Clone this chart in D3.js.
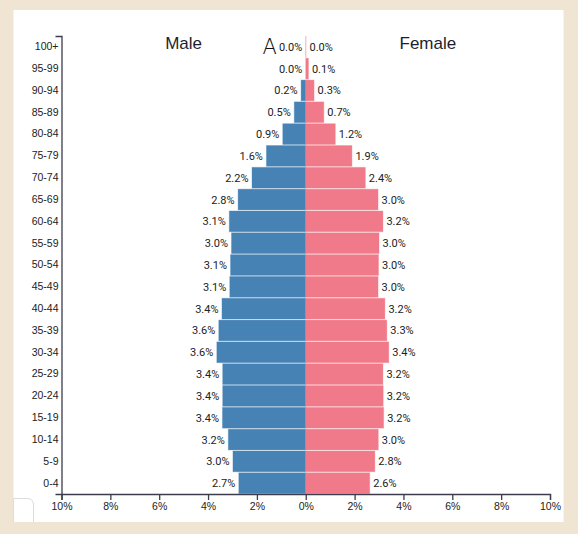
<!DOCTYPE html>
<html>
<head>
<meta charset="utf-8">
<script src="https://cdn.jsdelivr.net/npm/d3@7"></script>
<style>
  html, body { margin: 0; padding: 0; background: #f0e5d3; }
  svg { display: block; font-family: "Liberation Sans", Arial, Helvetica, sans-serif; }
</style>
</head>
<body>
<svg id="chart" width="578" height="534"></svg>
<script>
// ---- data ----
const ageGroups = ["100+","95-99","90-94","85-89","80-84","75-79","70-74","65-69","60-64","55-59","50-54","45-49","40-44","35-39","30-34","25-29","20-24","15-19","10-14","5-9","0-4"];
const maleValues   = [0.00,0.00,0.19,0.47,0.94,1.61,2.20,2.77,3.13,3.04,3.08,3.11,3.43,3.56,3.64,3.40,3.40,3.41,3.17,2.98,2.74];
const femaleValues = [0.01,0.11,0.34,0.74,1.21,1.89,2.44,2.96,3.16,3.00,2.98,2.96,3.24,3.32,3.40,3.16,3.17,3.19,2.97,2.83,2.62];
const xTickValues = [-10,-8,-6,-4,-2,0,2,4,6,8,10];
const seriesTitles = ["Male","Female"];

// ---- layout ----
const W = 578, H = 534;
const plot = {left: 61.5, right: 550, top: 36, bottom: 494};
const maleColor = "#4682b4", femaleColor = "#f07a89";
const axisColor = "#3c3c4c", textColor = "#222";

const svg = d3.select("#chart");
svg.append("rect").attr("width", W).attr("height", H).attr("fill", "#f0e5d3");
svg.append("rect").attr("x", 13.5).attr("y", 10).attr("width", 550).attr("height", 512).attr("fill", "#ffffff");

const x = d3.scaleLinear().domain([-10, 10]).range([plot.left, plot.right]);
const y = d3.scaleBand().domain(ageGroups).range([plot.top, plot.bottom]).paddingInner(0.05).paddingOuter(0.02);

const rows = ageGroups.map((g, i) => ({group: g, male: maleValues[i], female: femaleValues[i]}));

// bars
const g = svg.append("g");
g.selectAll("rect.male").data(rows).join("rect")
  .attr("class", "male")
  .attr("x", d => x(-d.male))
  .attr("y", d => y(d.group))
  .attr("width", d => x(0) - x(-d.male))
  .attr("height", y.bandwidth())
  .attr("fill", maleColor)
  .attr("stroke", maleColor).attr("stroke-opacity", 0.35).attr("stroke-width", 1);

g.selectAll("rect.female").data(rows).join("rect")
  .attr("class", "female")
  .attr("x", x(0))
  .attr("y", d => y(d.group))
  .attr("width", d => x(d.female) - x(0))
  .attr("height", y.bandwidth())
  .attr("fill", femaleColor)
  .attr("stroke", femaleColor).attr("stroke-opacity", 0.35).attr("stroke-width", 1);

// value labels
const fmt = d3.format(".1f");
g.selectAll("text.ml").data(rows).join("text")
  .attr("class", "ml")
  .attr("x", d => x(-d.male) - 3.5)
  .attr("y", d => y(d.group) + y.bandwidth() / 2)
  .attr("dy", "0.36em")
  .attr("text-anchor", "end")
  .attr("font-family", "Roboto, 'Liberation Sans', sans-serif")
  .attr("font-size", 11)
  .attr("fill", textColor)
  .text(d => fmt(d.male) + "%");

g.selectAll("text.fl").data(rows).join("text")
  .attr("class", "fl")
  .attr("x", d => x(d.female) + 3.5)
  .attr("y", d => y(d.group) + y.bandwidth() / 2)
  .attr("dy", "0.36em")
  .attr("text-anchor", "start")
  .attr("font-family", "Roboto, 'Liberation Sans', sans-serif")
  .attr("font-size", 11)
  .attr("fill", textColor)
  .text(d => fmt(d.female) + "%");

// axes
const xAxis = svg.append("g")
  .attr("transform", `translate(0,${plot.bottom})`)
  .call(d3.axisBottom(x).tickValues(xTickValues).tickFormat(d => Math.abs(d) + "%").tickSize(6).tickPadding(3));
const yAxis = svg.append("g")
  .attr("transform", `translate(${plot.left},0)`)
  .call(d3.axisLeft(y).tickSizeInner(0).tickSizeOuter(6).tickPadding(3));

[xAxis, yAxis].forEach(a => {
  a.selectAll("path, line").attr("stroke", axisColor).attr("stroke-width", 1.3);
  a.selectAll("text").attr("fill", textColor).attr("font-size", 10.5)
    .attr("font-family", "'Liberation Sans', Arial, sans-serif");
});

// titles
svg.append("text").attr("x", x(-5)).attr("y", 49).attr("text-anchor", "middle")
  .attr("font-size", 17).attr("fill", "#1e1e2e").text(seriesTitles[0]);
svg.append("text").attr("x", x(5)).attr("y", 49).attr("text-anchor", "middle")
  .attr("font-size", 17).attr("fill", "#1e1e2e").text(seriesTitles[1]);
svg.append("text").attr("x", 262.5).attr("y", 53.5).attr("text-anchor", "start")
  .attr("font-size", 21).attr("font-weight", 300)
  .attr("font-family", "'DejaVu Sans', sans-serif")
  .attr("fill", "#111").text("A");

// small box bottom-left
svg.append("path")
  .attr("d", "M13.5,522 V498.5 H27 Q33.5,498.5 33.5,505 V522")
  .attr("fill", "#fff").attr("stroke", "#dcdcdc").attr("stroke-width", 1);
</script>
</body>
</html>
